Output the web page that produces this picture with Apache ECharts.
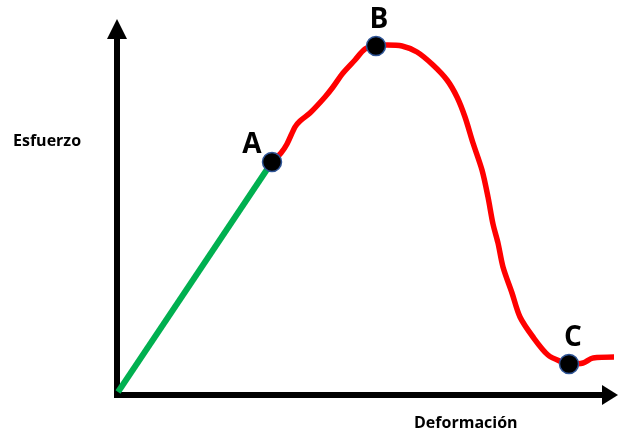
<!DOCTYPE html>
<html>
<head>
<meta charset="utf-8">
<script src="https://cdn.jsdelivr.net/npm/echarts@6/dist/echarts.min.js"></script>
<style>
  html, body { margin: 0; padding: 0; background: #fff; }
  #main { width: 618px; height: 437px; }
</style>
</head>
<body>
<div id="main"></div>
<script>
// zona elastica (recta verde) y zona plastica (curva roja)
const elasticPts = [[1, 3], [155, 233]];
const plasticPts = [
  [155, 233], [164, 242], [170, 251], [178, 268], [183, 274], [193, 282],
  [208, 298], [216, 308], [226, 322], [238, 335], [248, 346], [259, 349],
  [270, 350], [285, 349], [300, 343], [316, 330], [330, 315], [340, 298],
  [348, 278], [356, 252], [365, 225], [371, 198], [376, 171], [381, 152],
  [386, 128], [395, 102], [403, 78], [416, 58], [431, 40], [445, 33],
  [452, 31], [466, 32], [476, 37], [506, 38]
];
const pointNames = ["A", "B", "C"];
const pointVals = [[155, 233], [259, 349], [452, 31]];
const labelOffsets = [[-20, -17], [3, -26], [4, -26]];

const dom = document.getElementById("main");
const myChart = echarts.init(dom);

const axisLineStyle = {
  color: "#000",
  width: 6,
  cap: "square"
};

const option = {
  animation: false,
  grid: {
    left: 117,
    right: 8,
    top: 29,
    bottom: 42
  },
  xAxis: {
    type: "value",
    min: 0,
    max: 493,
    axisLine: {
      show: true,
      symbol: ["none", "triangle"],
      symbolSize: [20, 16],
      lineStyle: axisLineStyle
    },
    axisTick: { show: false },
    axisLabel: { show: false },
    splitLine: { show: false }
  },
  yAxis: {
    type: "value",
    min: 0,
    max: 366,
    axisLine: {
      show: true,
      symbol: ["none", "triangle"],
      symbolSize: [20, 20],
      lineStyle: axisLineStyle
    },
    axisTick: { show: false },
    axisLabel: { show: false },
    splitLine: { show: false }
  },
  graphic: [
    {
      type: "text",
      left: 13,
      top: 133,
      style: {
        text: "Esfuerzo",
        font: "bold 16px 'Open Sans'",
        fill: "#000"
      }
    },
    {
      type: "text",
      left: 414,
      top: 415,
      style: {
        text: "Deformación",
        font: "bold 16px 'Open Sans'",
        fill: "#000"
      }
    }
  ],
  series: [
    {
      name: "elastica",
      type: "line",
      data: elasticPts,
      showSymbol: false,
      lineStyle: { color: "#00b050", width: 6 },
      z: 3
    },
    {
      name: "plastica",
      type: "line",
      data: plasticPts,
      showSymbol: false,
      clip: false,
      smooth: 0.3,
      lineStyle: { color: "#ff0000", width: 5.5 },
      z: 3
    },
    {
      name: "puntos",
      type: "scatter",
      symbolSize: 19,
      z: 5,
      itemStyle: {
        color: "#000",
        opacity: 1,
        borderColor: "#2f5597",
        borderWidth: 1.5
      },
      data: pointNames.map((n, i) => ({
        name: n,
        value: pointVals[i],
        label: {
          show: true,
          position: "inside",
          offset: labelOffsets[i],
          formatter: "{b}",
          color: "#000",
          fontFamily: "Open Sans",
          fontWeight: "bold",
          fontSize: 28
        }
      }))
    }
  ]
};
myChart.setOption(option);
</script>
</body>
</html>
